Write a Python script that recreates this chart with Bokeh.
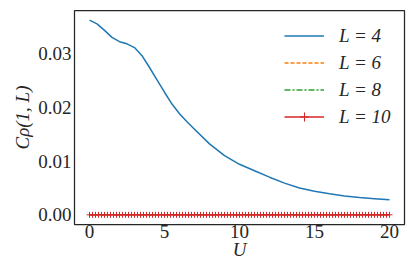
import numpy as np
from bokeh.plotting import figure
from bokeh.models import Range1d, Legend, LegendItem, FixedTicker, NumeralTickFormatter
from bokeh.embed import file_html
from bokeh.resources import INLINE

# L = 4 curve
U4 = [0, 0.5, 1, 1.5, 2, 2.5, 3, 3.5, 4, 4.5, 5, 5.5, 6, 6.5, 7, 8, 9, 10,
      11, 12, 13, 14, 15, 16, 17, 18, 19, 20]
C4 = [0.0362, 0.0355, 0.0343, 0.0330, 0.0322, 0.0318, 0.0311, 0.0296, 0.0274,
      0.0251, 0.0228, 0.0206, 0.0188, 0.0173, 0.0159, 0.0132, 0.0110, 0.0094,
      0.0082, 0.0070, 0.0059, 0.0050, 0.0044, 0.0039, 0.0035, 0.0032, 0.0030,
      0.0028]

# L = 6, 8, 10 on the sampling grid of U (all zero)
U_grid = np.linspace(0, 20, 101)
C6 = [0.0] * 101
C8 = [0.0] * 101
C10 = [0.0] * 101

x_ticks = [0, 5, 10, 15, 20]
y_ticks = [0.0, 0.01, 0.02, 0.03]
labels = ["L = 4", "L = 6", "L = 8", "L = 10"]
colors = ["#1f77b4", "#ff7f0e", "#2ca02c", "#d62728"]

FONT = "Liberation Serif"
INK = "#262626"

p = figure(width=410, height=268, output_backend="svg", toolbar_location=None,
           x_range=Range1d(-1, 21), y_range=Range1d(-0.0018, 0.038),
           min_border_left=74, min_border_right=6, min_border_top=10,
           min_border_bottom=44)

p.xgrid.visible = False
p.ygrid.visible = False
p.outline_line_color = INK
p.outline_line_width = 1.25

for ax in (p.xaxis[0], p.yaxis[0]):
    ax.axis_line_color = None
    ax.major_tick_line_color = None
    ax.minor_tick_line_color = None
    ax.major_tick_out = 0
    ax.major_tick_in = 0
    ax.major_label_text_font = FONT
    ax.major_label_text_font_size = "19px"
    ax.major_label_text_color = INK
    ax.axis_label_text_font = FONT
    ax.axis_label_text_font_style = "italic"
    ax.axis_label_text_font_size = "19px"
    ax.axis_label_text_color = INK

p.xaxis.ticker = FixedTicker(ticks=x_ticks)
p.yaxis.ticker = FixedTicker(ticks=y_ticks)
p.yaxis.formatter = NumeralTickFormatter(format="0.00")
p.xaxis.major_label_standoff = 0
p.yaxis.major_label_standoff = 3

p.xaxis.axis_label = "U"
p.xaxis.axis_label_standoff = -2
p.yaxis.axis_label = "C\u03c1(1, L)"
p.yaxis.axis_label_standoff = 2

r4 = p.line(U4, C4, color=colors[0], line_width=1.5)
r6 = p.line(U_grid, C6, color=colors[1], line_width=1.5, line_dash="4 2")
r8 = p.line(U_grid, C8, color=colors[2], line_width=1.5, line_dash="6 2 2 2")
r10 = p.line(U_grid, C10, color=colors[3], line_width=1.5)
r10m = p.scatter(U_grid, C10, marker="cross", size=6, line_color=colors[3], line_width=1)

legend = Legend(items=[LegendItem(label=labels[0], renderers=[r4]),
                       LegendItem(label=labels[1], renderers=[r6]),
                       LegendItem(label=labels[2], renderers=[r8]),
                       LegendItem(label=labels[3], renderers=[r10, r10m])],
                location=(210, 96))
legend.border_line_color = None
legend.background_fill_alpha = 0
legend.padding = 0
legend.margin = 0
legend.spacing = 4
legend.glyph_width = 40
legend.glyph_height = 23
legend.label_height = 23
legend.label_standoff = 15
legend.label_text_font = FONT
legend.label_text_font_style = "italic"
legend.label_text_font_size = "19px"
legend.label_text_color = INK
p.add_layout(legend)

open("out.html", "w").write(file_html(p, INLINE))
